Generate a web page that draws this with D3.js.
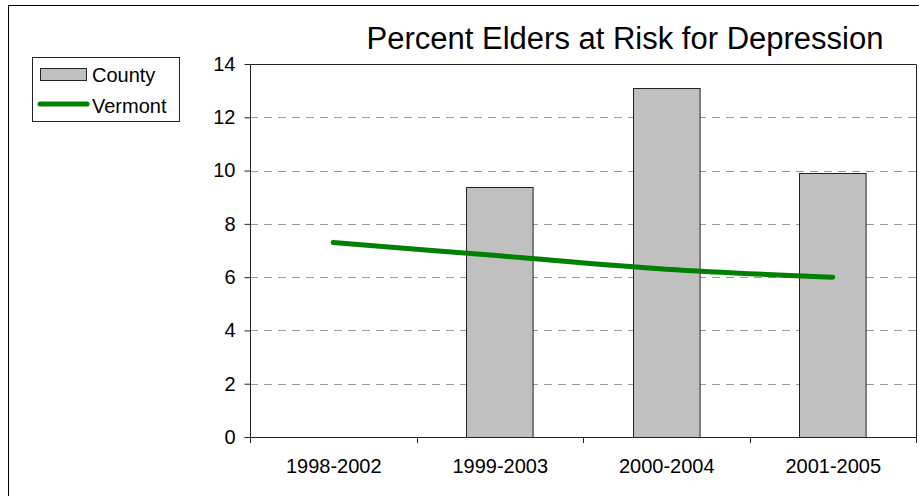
<!DOCTYPE html>
<html><head><meta charset="utf-8">
<script src="https://cdn.jsdelivr.net/npm/d3@7"></script>
<style>body{margin:0;background:#fff}svg{display:block;font-family:"Liberation Sans",Arial,sans-serif}</style>
</head><body>
<script>
const categories = ["1998-2002","1999-2003","2000-2004","2001-2005"];
const countyValues = [null, 9.4, 13.1, 9.9];
const vermontValues = [7.3, 6.8, 6.3, 6.0];
const yTicks = [0,2,4,6,8,10,12,14];
const title = "Percent Elders at Risk for Depression";

const W = 919, H = 496;
const svg = d3.select("body").append("svg").attr("width", W).attr("height", H);

// outer border
svg.append("rect").attr("x", 8.5).attr("y", 5.5).attr("width", 920).attr("height", 500)
  .attr("fill", "none").attr("stroke", "#000").attr("stroke-width", 1);

const L = 250, R = 916, T = 64, B = 437;
const x = d3.scaleBand().domain(categories).range([L, R]).paddingInner(0.6).paddingOuter(0.3);
const xc = d3.scalePoint().domain(categories).range([L, R]).padding(0.5);
const y = d3.scaleLinear().domain([0, 14]).range([B, T]);

// gridlines
svg.append("g").selectAll("line").data(yTicks.filter(d => d > 0 && d < 14)).join("line")
  .attr("x1", L).attr("x2", R).attr("y1", d => Math.round(y(d)) + 0.5).attr("y2", d => Math.round(y(d)) + 0.5)
  .attr("stroke", "#9a9a9a").attr("stroke-dasharray", "8,6");

// plot border top/right
svg.append("path").attr("d", `M${L},${T + 0.5}H${R + 0.5}V${B}`).attr("fill", "none").attr("stroke", "#222");

// bars
svg.append("g").selectAll("rect").data(categories.map((c, i) => ({c, v: countyValues[i]})).filter(d => d.v != null)).join("rect")
  .attr("x", d => Math.round(x(d.c)) + 0.5).attr("y", d => Math.round(y(d.v)) + 0.5)
  .attr("width", x.bandwidth()).attr("height", d => B - Math.round(y(d.v)))
  .attr("fill", "#c0c0c0").attr("stroke", "#222").attr("stroke-width", 1);

// y axis
const yAxis = svg.append("g").attr("transform", `translate(${L + 0.5},0)`)
  .call(d3.axisLeft(y).tickValues(yTicks).tickSize(6).tickPadding(9).tickFormat(d3.format("d")));
yAxis.select(".domain").attr("stroke", "#222").attr("d", `M0,${T}V${B}`);
yAxis.selectAll(".tick line").attr("stroke", "#222");
yAxis.selectAll("text").attr("font-size", 20).attr("fill", "#000").attr("font-family", "Liberation Sans, Arial, sans-serif");

// x axis
const xAxis = svg.append("g").attr("transform", `translate(0,${B + 0.5})`)
  .call(d3.axisBottom(xc).tickSize(0).tickPadding(21));
xAxis.select(".domain").attr("stroke", "#222").attr("d", `M${L},0H${R + 0.5}`);
xAxis.selectAll("text").attr("font-size", 20).attr("fill", "#000").attr("font-family", "Liberation Sans, Arial, sans-serif");
const bounds = [L, ...categories.slice(1).map(c => (xc(c) + xc(categories[categories.indexOf(c) - 1])) / 2), R];
svg.append("g").selectAll("line").data(bounds).join("line")
  .attr("x1", d => Math.round(d) + 0.5).attr("x2", d => Math.round(d) + 0.5).attr("y1", B).attr("y2", B + 6)
  .attr("stroke", "#222");

// line
const line = d3.line().x((d, i) => xc(categories[i])).y(d => y(d)).curve(d3.curveCatmullRom.alpha(0.5));
svg.append("path").attr("d", line(vermontValues)).attr("fill", "none")
  .attr("stroke", "#008000").attr("stroke-width", 5).attr("stroke-linecap", "round");

// title
svg.append("text").attr("x", 625).attr("y", 49).attr("text-anchor", "middle")
  .attr("font-size", 31).attr("fill", "#000").text(title);

// legend
const lg = svg.append("g");
lg.append("rect").attr("x", 32.5).attr("y", 57.5).attr("width", 147).attr("height", 64)
  .attr("fill", "#fff").attr("stroke", "#222");
lg.append("rect").attr("x", 40.5).attr("y", 68.5).attr("width", 46).attr("height", 12)
  .attr("fill", "#c0c0c0").attr("stroke", "#222");
lg.append("text").attr("x", 92).attr("y", 82).attr("font-size", 20).text("County");
lg.append("line").attr("x1", 40).attr("x2", 87).attr("y1", 104).attr("y2", 104)
  .attr("stroke", "#008000").attr("stroke-width", 5).attr("stroke-linecap", "round");
lg.append("text").attr("x", 92).attr("y", 113).attr("font-size", 20).text("Vermont");
</script>
</body></html>
